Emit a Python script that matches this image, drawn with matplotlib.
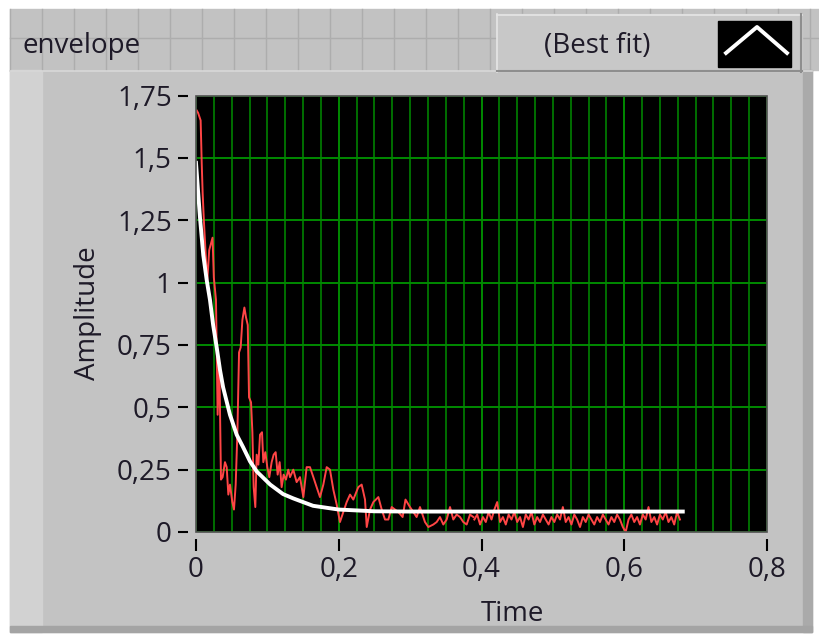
import numpy as np
import matplotlib
matplotlib.use('Agg')
import matplotlib.pyplot as plt
from matplotlib.patches import Rectangle
from matplotlib.lines import Line2D
from matplotlib.ticker import MultipleLocator

# measured envelope (red), head part read point by point
head_t = [0.001, 0.003, 0.0065, 0.008, 0.0093, 0.011, 0.0157, 0.0185, 0.0232, 0.025,
          0.028, 0.0303, 0.0327, 0.035, 0.0373, 0.0406, 0.043, 0.0453, 0.0476, 0.0509,
          0.0532, 0.0556, 0.058, 0.0603, 0.0626, 0.065, 0.0678, 0.0701, 0.0725, 0.0743,
          0.0771, 0.079, 0.0808, 0.0831, 0.085, 0.0874, 0.0897, 0.0925, 0.0943, 0.0971,
          0.0999, 0.1027, 0.106, 0.1088, 0.1116, 0.1144, 0.1172, 0.12, 0.1228, 0.126,
          0.1293, 0.1317, 0.1363, 0.141, 0.1457, 0.1504, 0.155, 0.1597, 0.1644, 0.169,
          0.1737, 0.1784, 0.1831, 0.1877, 0.1924, 0.1971, 0.2017, 0.2064, 0.2111, 0.2158,
          0.2204, 0.2274, 0.2321, 0.2368, 0.2392, 0.2438, 0.2485, 0.2555, 0.2602, 0.2648,
          0.2695, 0.2742, 0.2788, 0.2835, 0.2895, 0.2935, 0.2998, 0.3045, 0.3091, 0.3138,
          0.3208, 0.3255, 0.3325, 0.3372, 0.3418, 0.3465, 0.3512, 0.3559, 0.3605, 0.3652,
          0.3699, 0.3745, 0.3792, 0.3839, 0.3886]
head_amp = [1.69, 1.68, 1.65, 1.48, 1.36, 1.25, 1.00, 1.13, 1.18, 1.02,
            0.93, 0.47, 0.68, 0.21, 0.22, 0.28, 0.26, 0.15, 0.19, 0.12,
            0.09, 0.19, 0.40, 0.72, 0.74, 0.85, 0.90, 0.86, 0.83, 0.54,
            0.52, 0.40, 0.18, 0.10, 0.31, 0.27, 0.39, 0.40, 0.28, 0.32,
            0.26, 0.22, 0.28, 0.31, 0.32, 0.23, 0.28, 0.18, 0.23, 0.21,
            0.25, 0.22, 0.25, 0.20, 0.22, 0.14, 0.26, 0.26, 0.22, 0.18,
            0.14, 0.19, 0.26, 0.25, 0.17, 0.11, 0.04, 0.08, 0.12, 0.15,
            0.13, 0.18, 0.19, 0.13, 0.02, 0.09, 0.12, 0.14, 0.09, 0.05,
            0.05, 0.10, 0.09, 0.08, 0.06, 0.13, 0.10, 0.08, 0.06, 0.10,
            0.04, 0.02, 0.03, 0.04, 0.06, 0.03, 0.05, 0.10, 0.05, 0.07,
            0.06, 0.04, 0.03, 0.07, 0.06]

# noisy tail, sampled evenly from 0.39 to 0.678 s
tail_amp = [0.05, 0.07, 0.03, 0.06, 0.04, 0.08, 0.05, 0.09, 0.12, 0.04,
            0.06, 0.03, 0.07, 0.05, 0.08, 0.04, 0.06, 0.02, 0.07, 0.05,
            0.08, 0.03, 0.06, 0.04, 0.07, 0.05, 0.03, 0.06, 0.04, 0.07,
            0.05, 0.10, 0.04, 0.06, 0.03, 0.07, 0.05, 0.02, 0.06, 0.04,
            0.07, 0.05, 0.03, 0.06, 0.04, 0.07, 0.05, 0.03, 0.06, 0.04,
            0.07, 0.05, 0.02, 0.00, 0.05, 0.07, 0.04, 0.06, 0.03, 0.07,
            0.05, 0.10, 0.04, 0.06, 0.03, 0.07, 0.05, 0.08, 0.04, 0.06,
            0.03, 0.08, 0.05]
tail_t = np.linspace(0.39, 0.678, len(tail_amp))

# best fit curve (white)
fit_t = [0, 0.0056, 0.0102, 0.015, 0.0196, 0.024, 0.029, 0.0336, 0.038, 0.0476,
         0.057, 0.066, 0.0757, 0.085, 0.104, 0.122, 0.136, 0.164, 0.2, 0.25,
         0.3, 0.4, 0.5, 0.6, 0.682]
fit_amp = [1.48, 1.26, 1.11, 1.01, 0.93, 0.83, 0.74, 0.65, 0.58, 0.47,
           0.39, 0.34, 0.283, 0.243, 0.19, 0.152, 0.135, 0.105, 0.09, 0.083,
           0.082, 0.082, 0.082, 0.082, 0.082]

y_ticks = [0, 0.25, 0.5, 0.75, 1, 1.25, 1.5, 1.75]
y_labels = ['0', '0,25', '0,5', '0,75', '1', '1,25', '1,5', '1,75']
x_ticks = [0, 0.2, 0.4, 0.6, 0.8]
x_labels = ['0', '0,2', '0,4', '0,6', '0,8']

W, H = 819, 635
FONT = 'Open Sans'
TXT = '#1e1a28'

fig = plt.figure(figsize=(W / 100, H / 100), dpi=100, facecolor='white')


def box(x0, y0, x1, y1, color, z=0):
    fig.patches.append(Rectangle((x0 / W, 1 - y1 / H), (x1 - x0) / W, (y1 - y0) / H,
                                 transform=fig.transFigure, color=color, zorder=z))


def hline(x0, x1, y, color, lw=1.0, z=1):
    fig.add_artist(Line2D([x0 / W, x1 / W], [1 - y / H, 1 - y / H], transform=fig.transFigure,
                          color=color, lw=lw, zorder=z))


def vline(x, y0, y1, color, lw=1.0, z=1):
    fig.add_artist(Line2D([x / W, x / W], [1 - y0 / H, 1 - y1 / H], transform=fig.transFigure,
                          color=color, lw=lw, zorder=z))


# label strip with panel grid
box(10, 9, W, 70, '#c2c2c2')
for gx in range(10, W, 32):
    vline(gx, 9, 70, '#adadad', 1.0)
hline(10, W, 38, '#adadad', 1.0)

# graph frame
box(10, 70, 812, 632, '#c3c3c3')
box(10, 70, 42, 632, '#d2d2d2')
box(803, 70, 812, 632, '#aaaaaa')
box(10, 626, 812, 632, '#a4a4a4')
hline(10, 812, 70.5, '#d8d8d8', 1.2)

# legend plate
box(497, 14, 802, 72, '#c8c8c8', z=2)
hline(497, 802, 14.5, '#e6e6e6', 1.2, z=3)
vline(497.5, 14, 72, '#e6e6e6', 1.2, z=3)
hline(497, 802, 71, '#8e8e8e', 1.5, z=3)
vline(801, 14, 72, '#8e8e8e', 1.5, z=3)
box(718, 21, 791, 67, 'black', z=4)
fig.add_artist(Line2D([726 / W, 757 / W, 787 / W], [1 - 53 / H, 1 - 27 / H, 1 - 53 / H],
                      transform=fig.transFigure, color='white', lw=2.8, zorder=5))

fig.text(22 / W, 1 - 53 / H, 'envelope', fontsize=20, family=FONT, color=TXT, va='baseline')
fig.text(597 / W, 1 - 53 / H, '(Best fit)', fontsize=20, family=FONT, color=TXT,
         va='baseline', ha='center', zorder=6)

ax = fig.add_axes([196 / W, 1 - 532 / H, 571 / W, 436.5 / H])
ax.set_facecolor('black')
ax.set_zorder(3)

ax.plot(head_t, head_amp, color='#ff4545', lw=1.4, zorder=3)
ax.plot(tail_t, tail_amp, color='#ff4545', lw=1.4, zorder=3)
ax.plot(fit_t, fit_amp, color='white', lw=2.8, zorder=4)

ax.set_xlim(0, 0.8)
ax.set_ylim(0, 1.75)
ax.set_xticks(x_ticks)
ax.set_xticklabels(x_labels)
ax.set_yticks(y_ticks)
ax.set_yticklabels(y_labels)
ax.xaxis.set_minor_locator(MultipleLocator(0.025))

ax.grid(which='major', color='#008a00', lw=1.4)
ax.grid(which='minor', axis='x', color='#006e00', lw=1.4)
ax.set_axisbelow(True)

for s in ['top', 'right']:
    ax.spines[s].set_visible(False)
ax.spines['left'].set_position(('outward', 6))
ax.spines['bottom'].set_position(('outward', 5))
ax.spines['left'].set_color('none')
ax.spines['bottom'].set_color('none')
ax.add_patch(Rectangle((0, 0), 1, 1, transform=ax.transAxes, fill=False,
                       edgecolor='#505050', lw=1.2, zorder=5, clip_on=False))

ax.tick_params(axis='y', which='major', length=7.5, width=1.5, pad=4, colors='black',
               labelsize=20, labelcolor=TXT)
ax.tick_params(axis='x', which='major', length=8.5, width=1.5, pad=4, colors='black',
               labelsize=20, labelcolor=TXT)
ax.tick_params(axis='x', which='minor', length=0)
for lab in ax.get_xticklabels() + ax.get_yticklabels():
    lab.set_family(FONT)

fig.text(88 / W, 1 - 313 / H, 'Amplitude', fontsize=20, family=FONT, color=TXT,
         rotation=90, ha='center', va='center')
fig.text(512 / W, 1 - 614 / H, 'Time', fontsize=20, family=FONT, color=TXT,
         ha='center', va='center')

fig.savefig('out.png', dpi=100, facecolor=fig.get_facecolor())
